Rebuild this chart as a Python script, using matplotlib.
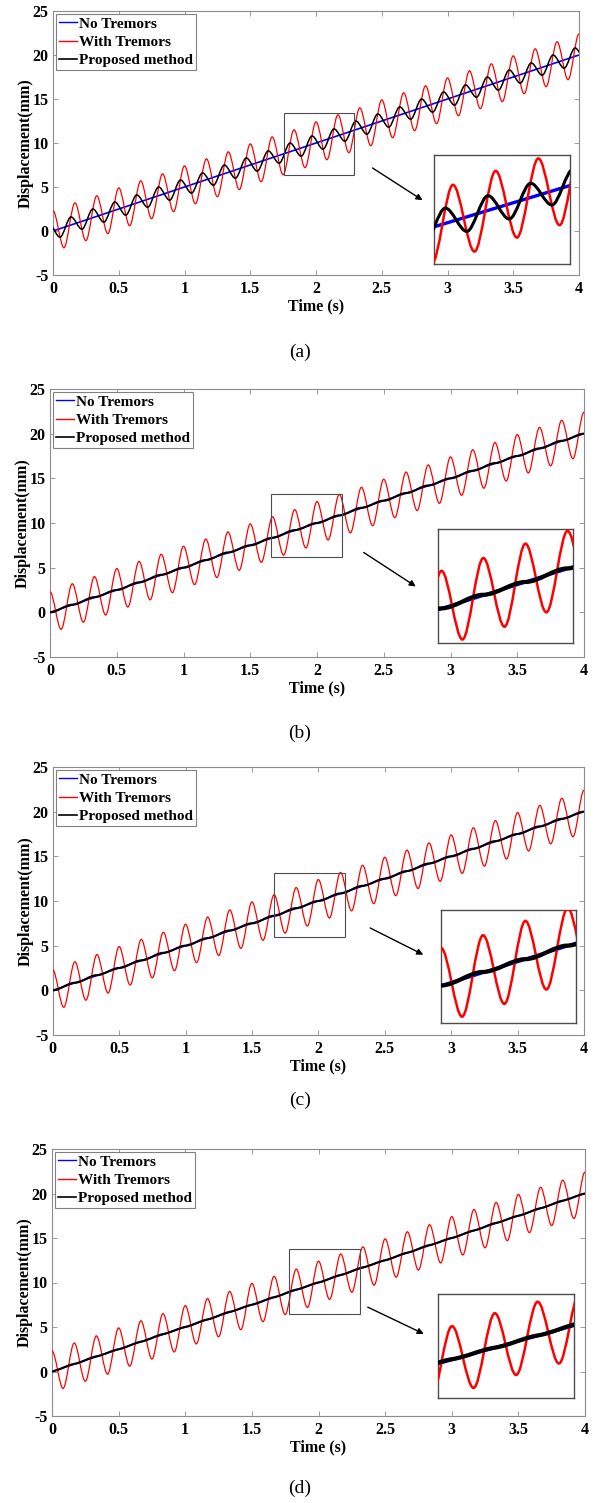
import matplotlib
matplotlib.use("Agg")
import matplotlib.pyplot as plt
from matplotlib.path import Path
from matplotlib.patches import PathPatch, Rectangle
from matplotlib.lines import Line2D

# ---------------- data ----------------
# No tremors (straight reference line)
blue_t = [0.0, 4.0]
blue_y = [0.0, 20.0]

# With tremors: successive extrema (peak / trough) of the red curve, same in all panels
red_t = [0.000, 0.083, 0.167, 0.250, 0.333, 0.417, 0.500, 0.583, 0.667, 0.750,
         0.833, 0.917, 1.000, 1.083, 1.167, 1.250, 1.333, 1.417, 1.500, 1.583,
         1.667, 1.750, 1.833, 1.917, 2.000, 2.083, 2.167, 2.250, 2.333, 2.417,
         2.500, 2.583, 2.667, 2.750, 2.833, 2.917, 3.000, 3.083, 3.167, 3.250,
         3.333, 3.417, 3.500, 3.583, 3.667, 3.750, 3.833, 3.917, 4.000]
red_y = [2.3, -1.9, 3.2, -1.1, 4.0, -0.3, 4.9, 0.6, 5.7, 1.4,
         6.5, 2.2, 7.4, 3.1, 8.2, 3.9, 9.0, 4.7, 9.9, 5.6,
         10.7, 6.4, 11.5, 7.2, 12.4, 8.1, 13.2, 8.9, 14.0, 9.7,
         14.9, 10.6, 15.7, 11.4, 16.5, 12.2, 17.4, 13.1, 18.2, 13.9,
         19.0, 14.7, 19.9, 15.6, 20.7, 16.4, 21.5, 17.2, 22.4]

# Proposed method, panel (a): extrema of the black curve
black_a_t = [-0.030, 0.053, 0.137, 0.220, 0.303, 0.387, 0.470, 0.553, 0.637, 0.720,
             0.803, 0.887, 0.970, 1.053, 1.137, 1.220, 1.303, 1.387, 1.470, 1.553,
             1.637, 1.720, 1.803, 1.887, 1.970, 2.053, 2.137, 2.220, 2.303, 2.387,
             2.470, 2.553, 2.637, 2.720, 2.803, 2.887, 2.970, 3.053, 3.137, 3.220,
             3.303, 3.387, 3.470, 3.553, 3.637, 3.720, 3.803, 3.887, 3.970, 4.053]
black_a_y = [0.8, -0.7, 1.6, 0.2, 2.5, 1.0, 3.3, 1.8, 4.1, 2.7,
             5.0, 3.5, 5.8, 4.3, 6.6, 5.2, 7.5, 6.0, 8.3, 6.8,
             9.1, 7.7, 10.0, 8.5, 10.8, 9.3, 11.6, 10.2, 12.5, 11.0,
             13.3, 11.8, 14.1, 12.7, 15.0, 13.5, 15.8, 14.3, 16.6, 15.2,
             17.5, 16.0, 18.3, 16.8, 19.1, 17.7, 20.0, 18.5, 20.8, 19.3]

# Proposed method, panels (b)-(d): plateau points of the staircase-like black curve
black_s_t = [0.000, 0.167, 0.333, 0.500, 0.667, 0.833, 1.000, 1.167, 1.333, 1.500,
             1.667, 1.833, 2.000, 2.167, 2.333, 2.500, 2.667, 2.833, 3.000, 3.167,
             3.333, 3.500, 3.667, 3.833, 4.000]
black_s_y = [0.0, 0.85, 1.7, 2.5, 3.35, 4.2, 5.0, 5.85, 6.7, 7.5,
             8.35, 9.2, 10.0, 10.85, 11.7, 12.5, 13.35, 14.2, 15.0, 15.85,
             16.7, 17.5, 18.35, 19.2, 20.0]
# slope of the black curve at the plateau points, per panel (b, c, d)
black_plateau_slope = {"b": 0.0, "c": 0.0, "d": 2.5}

series_labels = ["No Tremors", "With Tremors", "Proposed method"]
panel_names = ["(a)", "(b)", "(c)", "(d)"]
x_ticks = [0, 0.5, 1, 1.5, 2, 2.5, 3, 3.5, 4]
x_ticklabels = ["0", "0.5", "1", "1.5", "2", "2.5", "3", "3.5", "4"]
y_ticks = [-5, 0, 5, 10, 15, 20, 25]
y_ticklabels = ["-5", "0", "5", "10", "15", "20", "25"]

# ---------------- layout ----------------
W, H = 595, 1503
plt.rcParams["font.family"] = ["Liberation Serif", "DejaVu Serif"]
plt.rcParams["font.weight"] = "bold"
plt.rcParams["axes.unicode_minus"] = False
fig = plt.figure(figsize=(W / 100, H / 100), dpi=100)

# pixel boxes (left, right, top, bottom) of the four axes
boxes = [(53, 579, 11, 275), (50, 584, 389, 657), (52.7, 584, 767, 1035), (52, 585, 1149, 1416)]
label_y = [352, 733, 1100, 1488]
# zoom rectangle (t0, t1, y0, y1), inset bounds in data coords, arrow tail/head
zoom_rect = [(1.76, 2.29, 6.4, 13.4), (1.655, 2.19, 6.2, 13.3),
             (1.665, 2.20, 6.0, 13.1), (1.78, 2.31, 6.5, 13.75)]
inset_bounds = [(2.90, -3.75, 1.03, 12.35), (2.91, -3.4, 1.01, 12.7),
                (2.92, -3.66, 1.02, 12.69), (2.90, -2.97, 1.02, 11.7)]
arrows = [((2.43, 7.16), (2.81, 3.5)), ((2.35, 6.7), (2.74, 2.9)),
          ((2.39, 6.98), (2.79, 3.99)), ((2.37, 7.23), (2.79, 4.23))]

RED = "#ff0000"
BLUE = "#0000ff"
GRAY = "0.55"


def smooth_path(t, y, slope=0.0):
    verts = [(t[0], y[0])]
    codes = [Path.MOVETO]
    for i in range(len(t) - 1):
        h = t[i + 1] - t[i]
        verts += [(t[i] + h / 3, y[i] + slope * h / 3),
                  (t[i + 1] - h / 3, y[i + 1] - slope * h / 3),
                  (t[i + 1], y[i + 1])]
        codes += [Path.CURVE4] * 3
    return Path(verts, codes)


def draw_curves(ax, key, lw_scale=1.0):
    ax.plot(blue_t, blue_y, color=BLUE, lw=1.2 * lw_scale, zorder=2,
            solid_capstyle="butt")
    ax.add_patch(PathPatch(smooth_path(red_t, red_y), fill=False, edgecolor=RED,
                           lw=0.9 * lw_scale, zorder=3))
    if key == "a":
        p = smooth_path(black_a_t, black_a_y)
        lw = 1.1
    else:
        p = smooth_path(black_s_t, black_s_y, black_plateau_slope[key])
        lw = 1.5
    ax.add_patch(PathPatch(p, fill=False, edgecolor="black", lw=lw * lw_scale, zorder=4))


for i, key in enumerate(["a", "b", "c", "d"]):
    L, R, T, B = boxes[i]
    ax = fig.add_axes([L / W, 1 - B / H, (R - L) / W, (B - T) / H])
    draw_curves(ax, key)
    ax.set_xlim(0, 4)
    ax.set_ylim(-5, 25)
    ax.set_xticks(x_ticks)
    ax.set_xticklabels(x_ticklabels)
    ax.set_yticks(y_ticks)
    ax.set_yticklabels(y_ticklabels)
    ax.tick_params(direction="in", top=True, right=True, length=3.5, width=0.6,
                   color=GRAY, labelsize=11.5, pad=3)
    ax.tick_params(axis="x", pad=4)
    for s in ax.spines.values():
        s.set_color(GRAY)
        s.set_linewidth(0.8)
    ax.set_xlabel("Time (s)", fontsize=11.5, fontweight="bold", labelpad=1)
    ax.set_ylabel("Displacement(mm)", fontsize=11.5, fontweight="bold", labelpad=-1)

    handles = [Line2D([0], [0], color=BLUE, lw=1.0),
               Line2D([0], [0], color=RED, lw=1.0),
               Line2D([0], [0], color="black", lw=1.2)]
    leg = ax.legend(handles, series_labels, loc="upper left", bbox_to_anchor=(0.0, 1.0),
                    borderaxespad=0.2, handlelength=1.2, handletextpad=0.1,
                    borderpad=0.2, labelspacing=0.3, fancybox=False, framealpha=1,
                    edgecolor="0.5", prop={"weight": "bold", "size": 11})
    leg.get_frame().set_linewidth(0.8)

    t0, t1, y0, y1 = zoom_rect[i]
    ax.add_patch(Rectangle((t0, y0), t1 - t0, y1 - y0, fill=False, edgecolor="0.3",
                           lw=0.8, zorder=5))

    ins = ax.inset_axes(inset_bounds[i], transform=ax.transData)
    draw_curves(ins, key, lw_scale=2.0)
    ins.set_xlim(t0, t1)
    ins.set_ylim(y0, y1)
    ins.set_xticks([])
    ins.set_yticks([])
    for s in ins.spines.values():
        s.set_color("0.3")
        s.set_linewidth(1.0)

    tail, head = arrows[i]
    ax.annotate("", xy=head, xytext=tail, xycoords="data", textcoords="data",
                arrowprops=dict(arrowstyle="-|>", color="black", lw=1.0,
                                mutation_scale=9, shrinkA=0, shrinkB=0))

    fig.text(300 / W, 1 - label_y[i] / H, panel_names[i], ha="center", va="center",
             fontsize=14, fontweight="normal")

fig.savefig("out.png", dpi=100)
